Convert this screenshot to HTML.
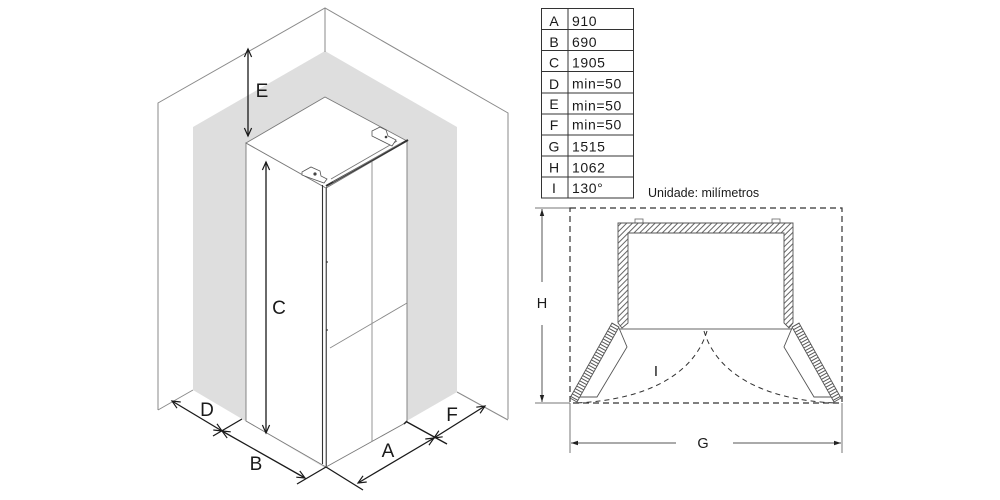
<!DOCTYPE html>
<html><head><meta charset="utf-8"><style>
html,body{margin:0;padding:0;background:#fff;}
svg{display:block;}
text{font-family:"Liberation Sans",Arial,sans-serif;fill:#1a1a1a;}
</style></head><body>
<svg width="1000" height="500" viewBox="0 0 1000 500" xmlns="http://www.w3.org/2000/svg">
<defs>
<marker id="v" viewBox="-10 -6 12 12" refX="0" refY="0" markerWidth="12" markerHeight="12" markerUnits="userSpaceOnUse" orient="auto-start-reverse">
<path d="M-8,-3.6 L0,0 L-8,3.6" fill="none" stroke="#1a1a1a" stroke-width="1.2"/>
</marker>
<marker id="f" viewBox="-9 -4 10 8" refX="0" refY="0" markerWidth="10" markerHeight="8" markerUnits="userSpaceOnUse" orient="auto-start-reverse">
<path d="M-7,-2.2 L0,0 L-7,2.2 Z" fill="#222"/>
</marker>
<pattern id="h1" width="4" height="4" patternUnits="userSpaceOnUse" patternTransform="rotate(45)">
<line x1="1" y1="0" x2="1" y2="4" stroke="#555" stroke-width="0.9"/>
</pattern>
<pattern id="h2" width="4" height="3" patternUnits="userSpaceOnUse" patternTransform="rotate(29)">
<line x1="0" y1="1" x2="4" y2="1" stroke="#444" stroke-width="0.9"/>
</pattern>
</defs>

<!-- LEFT ISOMETRIC DRAWING -->
<polygon points="193,127 325,51 457,127 457,392 325,468 193,390" fill="#dedede"/>
<polyline points="158,410 158,103 325,8 508,113 508,419" fill="none" stroke="#8a8a8a" stroke-width="1"/>
<line x1="325" y1="8" x2="325" y2="52" stroke="#8a8a8a" stroke-width="1"/>
<line x1="158" y1="410" x2="193" y2="390" stroke="#8a8a8a" stroke-width="1"/>
<line x1="457" y1="392" x2="508" y2="420" stroke="#8a8a8a" stroke-width="1"/>

<!-- fridge -->
<polygon points="246,143 326,188 326,467 246,421" fill="#fff" stroke="#7a7a7a" stroke-width="0.9"/>
<polygon points="326,188 407,141 407,422 326,467" fill="#fff" stroke="#7a7a7a" stroke-width="0.9"/>
<polygon points="246,143 325,97 407,141 326,188" fill="#fff" stroke="#7a7a7a" stroke-width="0.9"/>
<line x1="372" y1="161" x2="372" y2="441" stroke="#8a8a8a" stroke-width="0.9"/>
<line x1="330" y1="348" x2="407" y2="303" stroke="#8a8a8a" stroke-width="0.9"/>
<line x1="322.5" y1="185" x2="322.5" y2="464" stroke="#333" stroke-width="1.1"/>
<line x1="326.5" y1="187" x2="326.5" y2="466" stroke="#555" stroke-width="0.9"/>
<line x1="326" y1="186" x2="408" y2="140" stroke="#333" stroke-width="2"/>
<line x1="331" y1="179" x2="397" y2="141" stroke="#777" stroke-width="0.9"/>
<line x1="333" y1="182" x2="401" y2="143" stroke="#777" stroke-width="0.8"/>
<polygon points="302,172 311,167 320,171 321,176 327,179 324,183 310,178 302,175" fill="#fff" stroke="#555" stroke-width="0.8"/>
<circle cx="315" cy="174" r="1.6" fill="#444"/>
<polygon points="372,131 380,127 386,130 388,136 396,140 392,146 378,139 372,136" fill="#fff" stroke="#555" stroke-width="0.8"/>
<circle cx="386" cy="137" r="1.3" fill="#444"/>
<circle cx="327" cy="262" r="0.9" fill="#333"/>
<circle cx="327" cy="330" r="0.9" fill="#333"/>
<line x1="407" y1="421" x2="404" y2="424" stroke="#222" stroke-width="1.5"/>

<!-- dimension lines -->
<g stroke="#1a1a1a" stroke-width="1.3" fill="none">
<line x1="248" y1="49" x2="248" y2="136" marker-start="url(#v)" marker-end="url(#v)"/>
<line x1="266" y1="162" x2="266" y2="433" marker-start="url(#v)" marker-end="url(#v)"/>
<line x1="172" y1="401" x2="222" y2="431" marker-start="url(#v)" marker-end="url(#v)"/>
<line x1="242" y1="419" x2="213" y2="436"/>
<line x1="222" y1="431" x2="305" y2="478" marker-start="url(#v)" marker-end="url(#v)"/>
<line x1="297" y1="484" x2="326" y2="467"/>
<line x1="326" y1="467" x2="363" y2="490"/>
<line x1="358" y1="483" x2="434" y2="438" marker-start="url(#v)" marker-end="url(#v)"/>
<line x1="407" y1="422" x2="447" y2="444"/>
<line x1="434" y1="438" x2="485" y2="406" marker-start="url(#v)" marker-end="url(#v)"/>
</g>
<g font-size="19" text-anchor="middle">
<text x="262" y="97">E</text>
<text x="279" y="314">C</text>
<text x="207" y="416">D</text>
<text x="256" y="470">B</text>
<text x="388" y="457">A</text>
<text x="452" y="421">F</text>
</g>

<!-- TABLE -->
<g stroke="#333" stroke-width="1" fill="none">
<rect x="541.5" y="8.5" width="92" height="189.5"/>
<line x1="568" y1="8.5" x2="568" y2="198"/>
<line x1="541.5" y1="29.5" x2="633.5" y2="29.5"/>
<line x1="541.5" y1="50.5" x2="633.5" y2="50.5"/>
<line x1="541.5" y1="71.5" x2="633.5" y2="71.5"/>
<line x1="541.5" y1="93" x2="633.5" y2="93"/>
<line x1="541.5" y1="114" x2="633.5" y2="114"/>
<line x1="541.5" y1="135" x2="633.5" y2="135"/>
<line x1="541.5" y1="156" x2="633.5" y2="156"/>
<line x1="541.5" y1="177" x2="633.5" y2="177"/>
</g>
<g font-size="14" text-anchor="middle">
<text x="554" y="26">A</text>
<text x="554" y="47">B</text>
<text x="554" y="67.5">C</text>
<text x="554" y="89">D</text>
<text x="554" y="109">E</text>
<text x="554" y="130">F</text>
<text x="554" y="151.5">G</text>
<text x="554" y="172.5">H</text>
<text x="554" y="193">I</text>
</g>
<g font-size="14" letter-spacing="0.6">
<text x="572" y="26">910</text>
<text x="572" y="47">690</text>
<text x="572" y="67.5">1905</text>
<text x="572" y="88.5">min=50</text>
<text x="572" y="110.5">min=50</text>
<text x="572" y="129.5">min=50</text>
<text x="572" y="151.5">1515</text>
<text x="572" y="172.5">1062</text>
<text x="572" y="193">130°</text>
</g>
<text x="648" y="197" font-size="12.5">Unidade: milímetros</text>

<!-- RIGHT PLAN DRAWING -->
<g stroke="#777" stroke-width="1">
<line x1="535" y1="208" x2="570" y2="208"/>
<line x1="535" y1="403" x2="570" y2="403"/>
<line x1="570" y1="403" x2="570" y2="453"/>
<line x1="842" y1="403" x2="842" y2="453"/>
</g>
<g stroke="#555" stroke-width="1" fill="none">
<line x1="542" y1="282" x2="542" y2="209" marker-end="url(#f)"/>
<line x1="542" y1="325" x2="542" y2="402" marker-end="url(#f)"/>
<line x1="676" y1="443" x2="571" y2="443" marker-end="url(#f)"/>
<line x1="733" y1="443" x2="841" y2="443" marker-end="url(#f)"/>
</g>
<text x="542" y="308" font-size="14.5" text-anchor="middle">H</text>
<text x="703" y="448" font-size="14.5" text-anchor="middle">G</text>
<text x="656" y="376" font-size="15" text-anchor="middle">I</text>

<rect x="570" y="208" width="272" height="195" fill="none" stroke="#333" stroke-width="1.2" stroke-dasharray="6,4"/>

<!-- fridge body plan -->
<rect x="635" y="219" width="8" height="4" fill="#fff" stroke="#666" stroke-width="0.8"/>
<rect x="772" y="219" width="8" height="4" fill="#fff" stroke="#666" stroke-width="0.8"/>
<path d="M618,223 H793 V323 L789,328 L784,323 V233 H628 V323 L622,328 L618,323 Z" fill="url(#h1)" stroke="#555" stroke-width="0.9"/>
<line x1="620" y1="329" x2="792" y2="329" stroke="#666" stroke-width="1"/>

<!-- doors -->
<g id="ld">
<polygon points="612,323 619,327 577,402 570,398" fill="url(#h2)" stroke="#555" stroke-width="0.9"/>
<polyline points="619,328 627,347 597,397 580,397" fill="none" stroke="#555" stroke-width="0.9"/>
</g>
<g transform="translate(1411,0) scale(-1,1)">
<polygon points="612,323 619,327 577,402 570,398" fill="url(#h2)" stroke="#555" stroke-width="0.9"/>
<polyline points="619,328 627,347 597,397 580,397" fill="none" stroke="#555" stroke-width="0.9"/>
</g>

<!-- swing arcs -->
<g fill="none" stroke="#333" stroke-width="1" stroke-dasharray="5,4">
<path d="M707,331 C695,372 650,400 575,403"/>
<path d="M704,331 C716,372 761,400 836,403"/>
</g>
</svg>
</body></html>
